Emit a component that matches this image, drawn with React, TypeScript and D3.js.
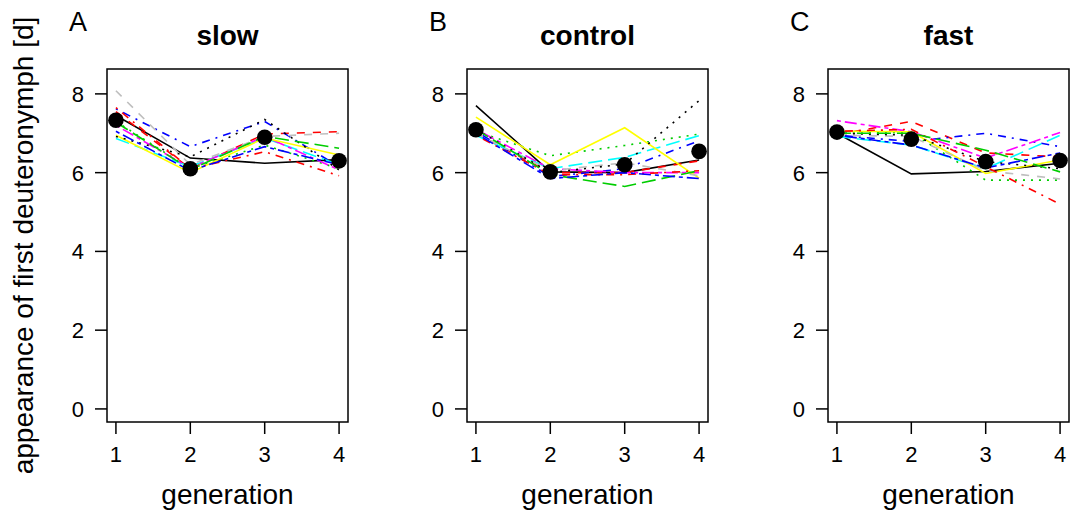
import React from "react";
import * as d3 from "d3";

const generations = [1, 2, 3, 4];
const panelTitles = ["slow", "control", "fast"];
const panelLetters = ["A", "B", "C"];
const yTicks = [0, 2, 4, 6, 8];

const lineColors = ["#000000", "#FF0000", "#00CD00", "#0000FF", "#00FFFF", "#FF00FF", "#FFFF00", "#BEBEBE", "#000000", "#FF0000", "#00CD00", "#0000FF"];
const lineDashes = ["", "8,8", "2,6", "2,6,8,6", "14,6", "4,4,12,4", "", "8,8", "2,6", "2,6,8,6", "14,6", "4,4,12,4"];

// replicate lines per treatment (12 lines each, generations 1-4)
const slowLines = [
  [7.45, 6.37, 6.24, 6.33],
  [7.55, 6.1, 6.98, 7.04],
  [7.3, 6.1, 6.7, 6.1],
  [7.62, 6.66, 7.3, 6.15],
  [6.87, 6.15, 6.88, 6.2],
  [7.2, 6.12, 6.92, 6.07],
  [6.95, 6.0, 6.88, 6.45],
  [8.08, 6.2, 6.92, 7.0],
  [6.92, 6.4, 7.35, 6.07],
  [7.65, 6.1, 6.53, 5.92],
  [7.28, 6.08, 6.92, 6.62],
  [7.05, 6.05, 6.66, 6.2],
];
const controlLines = [
  [7.7, 6.02, 6.0, 6.32],
  [7.0, 6.0, 6.0, 6.3],
  [7.05, 6.43, 6.69, 6.98],
  [7.05, 5.9, 6.1, 6.81],
  [6.95, 6.1, 6.39, 6.94],
  [7.1, 6.1, 6.0, 6.0],
  [7.41, 6.2, 7.14, 5.86],
  [7.0, 6.05, 6.25, 5.92],
  [7.1, 6.0, 6.22, 7.83],
  [6.95, 5.95, 5.95, 6.05],
  [7.1, 5.95, 5.65, 6.05],
  [7.0, 5.85, 6.0, 5.85],
];
const fastLines = [
  [7.0, 5.97, 6.03, 6.24],
  [6.97, 7.3, 6.5, 6.4],
  [7.0, 7.02, 5.81, 5.81],
  [6.95, 6.79, 7.0, 6.66],
  [6.92, 6.7, 6.1, 6.95],
  [7.32, 7.04, 6.37, 7.02],
  [7.05, 7.04, 5.98, 6.32],
  [6.95, 6.92, 6.05, 5.84],
  [7.0, 6.95, 6.28, 6.1],
  [7.05, 7.1, 6.15, 5.2],
  [7.0, 7.0, 6.57, 6.02],
  [6.95, 6.7, 6.12, 6.5],
];
const slowMeans = [7.33, 6.1, 6.9, 6.3];
const controlMeans = [7.09, 6.02, 6.2, 6.54];
const fastMeans = [7.03, 6.85, 6.28, 6.31];

const panelLines = [slowLines, controlLines, fastLines];
const panelMeans = [slowMeans, controlMeans, fastMeans];

const W = 1078;
const H = 515;
const boxLefts = [107, 467, 828];
const boxWidth = 241;
const boxTop = 69;
const boxBottom = 422;
const FONT = "'Liberation Sans', Arial, Helvetica, sans-serif";

export default function App() {
  const y = d3.scaleLinear().domain([-0.332, 8.632]).range([boxBottom, boxTop]);
  return (
    <svg width={W} height={H} style={{ position: "absolute", left: 0, top: 0, background: "#fff" }} fontFamily={FONT}>
      <rect x={0} y={0} width={W} height={H} fill="#fff" />
      <text transform={`translate(33,${(boxTop + boxBottom) / 2}) rotate(-90)`} textAnchor="middle" fontSize={28}>
        appearance of first deuteronymph [d]
      </text>
      {panelTitles.map((title, p) => {
        const left = boxLefts[p];
        const x = d3.scaleLinear().domain([0.88, 4.12]).range([left, left + boxWidth]);
        const line = d3.line<number>().x((_, i) => x(generations[i])).y((v) => y(v));
        const cx = left + boxWidth / 2;
        return (
          <g key={title}>
            <text x={left - 38} y={31} fontSize={27}>{panelLetters[p]}</text>
            <text x={cx} y={45} fontSize={28} fontWeight="bold" textAnchor="middle">{title}</text>
            {panelLines[p].map((vals, i) => (
              <path key={i} d={line(vals) || ""} fill="none" stroke={lineColors[i]} strokeWidth={1.6} strokeDasharray={lineDashes[i]} />
            ))}
            {panelMeans[p].map((v, i) => (
              <circle key={i} cx={x(generations[i])} cy={y(v)} r={7.8} fill="#000" />
            ))}
            <rect x={left} y={boxTop} width={boxWidth} height={boxBottom - boxTop} fill="none" stroke="#000" strokeWidth={1.5} />
            {yTicks.map((t) => (
              <g key={t}>
                <line x1={left - 12} x2={left} y1={y(t)} y2={y(t)} stroke="#000" strokeWidth={1.5} />
                <text x={left - 23} y={y(t)} dy="0.36em" textAnchor="end" fontSize={22}>{t}</text>
              </g>
            ))}
            {generations.map((g) => (
              <g key={g}>
                <line x1={x(g)} x2={x(g)} y1={boxBottom} y2={boxBottom + 12} stroke="#000" strokeWidth={1.5} />
                <text x={x(g)} y={462} textAnchor="middle" fontSize={22}>{g}</text>
              </g>
            ))}
            <text x={cx} y={504} textAnchor="middle" fontSize={28}>generation</text>
          </g>
        );
      })}
    </svg>
  );
}
